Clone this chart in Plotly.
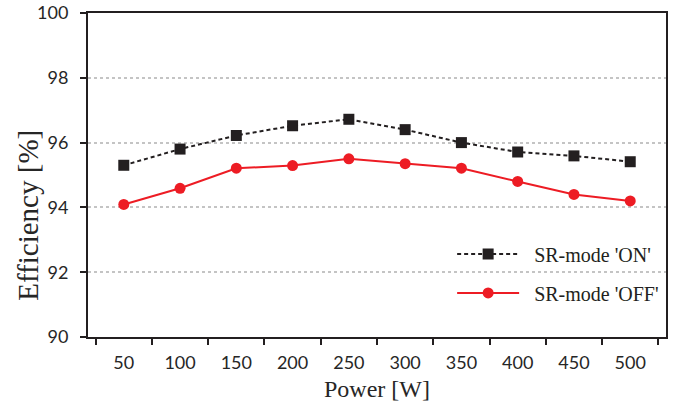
import plotly.graph_objects as go

power_w = ["50", "100", "150", "200", "250", "300", "350", "400", "450", "500"]
eff_sr_on = [95.3, 95.8, 96.22, 96.52, 96.72, 96.4, 96.0, 95.71, 95.59, 95.41]
eff_sr_off = [94.09, 94.59, 95.21, 95.29, 95.5, 95.35, 95.21, 94.8, 94.4, 94.2]
y_ticks = [90, 92, 94, 96, 98, 100]

# a little extra room between each legend sample and its label
GAP = "\u00a0\u00a0"

fig = go.Figure()

fig.add_trace(go.Scatter(
    x=power_w, y=eff_sr_on, name=GAP + "SR-mode 'ON'", mode="lines+markers",
    line=dict(color="#231f20", width=2, dash="4px,3px"),
    marker=dict(symbol="square", size=11, color="#231f20"),
    legend="legend", showlegend=True,
))
fig.add_trace(go.Scatter(
    x=power_w, y=eff_sr_off, name=GAP + "SR-mode 'OFF'", mode="lines+markers",
    line=dict(color="#ed1c24", width=2),
    marker=dict(symbol="circle", size=11, color="#ed1c24"),
    legend="legend2", showlegend=True,
))

legend_style = dict(
    font=dict(family="Liberation Serif", size=20, color="#231f20"),
    bgcolor="rgba(0,0,0,0)", itemwidth=62, xanchor="left", yanchor="middle",
    visible=True,
)

fig.update_layout(
    width=686, height=409,
    margin=dict(l=88, r=20, t=13, b=72),
    plot_bgcolor="white", paper_bgcolor="white",
    showlegend=True,
    font=dict(family="Lato", size=18, color="#262626"),
    xaxis=dict(
        type="category", tickson="boundaries", ticks="outside", ticklen=6,
        tickwidth=2, tickcolor="#231f20", showline=True, linecolor="#231f20",
        linewidth=2, mirror=True, showgrid=False, ticklabelstandoff=8,
        automargin=False,
        title=dict(text="Power [W]", font=dict(family="Liberation Serif", size=24),
                   standoff=9),
    ),
    yaxis=dict(
        range=[90, 100], tickvals=y_ticks, ticks="outside", ticklen=6,
        tickwidth=2, tickcolor="#231f20", showline=True, linecolor="#231f20",
        linewidth=2, mirror=True, showgrid=True, gridcolor="#c4c4c4",
        griddash="dot", gridwidth=1.5, zeroline=False, ticklabelstandoff=8,
        automargin=False,
    ),
    legend=dict(x=0.63, y=0.256, **legend_style),
    legend2=dict(x=0.63, y=0.136, **legend_style),
    annotations=[dict(
        text="Efficiency [%]", textangle=-90, showarrow=False,
        xref="paper", yref="paper", x=-0.104, y=0.377,
        xanchor="center", yanchor="middle",
        font=dict(family="Liberation Serif", size=29, color="#262626"),
    )],
)

fig.write_html("out.html")
